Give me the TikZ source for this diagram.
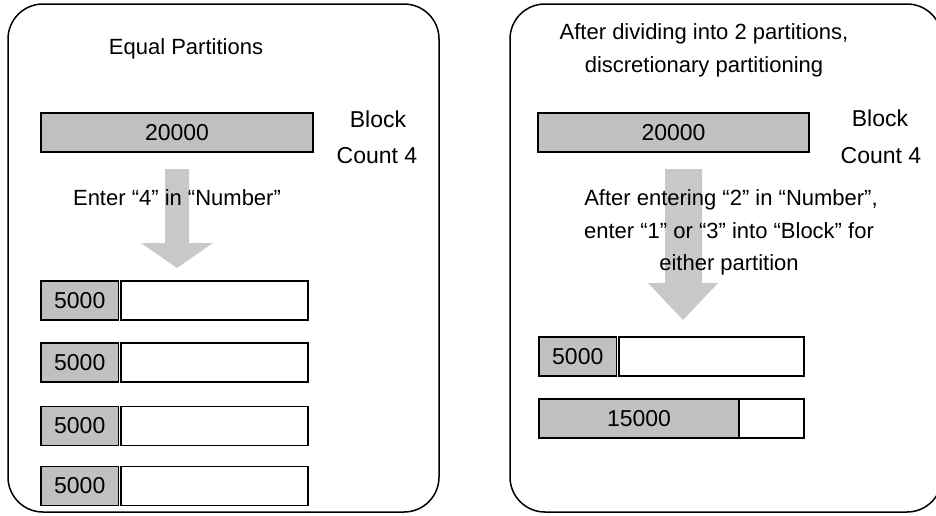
\documentclass[tikz,border=0pt]{standalone}
\usepackage{fontspec}
\setmainfont{Liberation Sans}
\definecolor{barfill}{HTML}{C0C0C0}
\definecolor{arrowfill}{HTML}{C8C8C8}
\begin{document}
\begin{tikzpicture}[x=1pt,y=-1pt,
  every node/.style={font=\fontsize{22}{26}\selectfont, inner sep=0pt, outer sep=0pt},
  panel/.style={draw=black, line width=1.5pt, rounded corners=35pt},
  graybar/.style={draw=black, line width=1.4pt, fill=barfill, minimum height=39pt, font=\fontsize{23}{27}\selectfont},
  whitebar/.style={draw=black, line width=1.4pt, fill=white, minimum height=39pt},
  bigarrow/.style={fill=arrowfill, draw=none},
  lbl/.style={anchor=base},
  side/.style={anchor=base, font=\fontsize{23}{27}\selectfont}]
\useasboundingbox (0,0) rectangle (936,515);
\begin{scope}
\clip (0,0) rectangle (936,515);
% panels
\draw[panel] (8,4) rectangle (439,512);
\draw[panel] (510,4) rectangle (942,512);
\end{scope}
% big arrows (behind text)
\fill[bigarrow] (165,169) -- (189,169) -- (189,243) -- (213,243) -- (177,268) -- (141,243) -- (165,243) -- cycle;
\fill[bigarrow] (665,169) -- (702,169) -- (702,283) -- (718,283) -- (683,320) -- (648,283) -- (665,283) -- cycle;
% left panel
\node[lbl] (titleL) at (186,54) {Equal Partitions};
\node[graybar, minimum width=272pt] (totL) at (177,132.5) {20000};
\node[side] (blkL) at (378,127) {Block};
\node[side] (cntL) at (377,163) {Count 4};
\node[lbl] (enterL) at (177,205) {Enter “4” in “Number”};
\foreach \i/\y in {1/300.5,2/362.5,3/426,4/486}{
  \node[graybar, minimum width=77.5pt] (gL\i) at (79.75,\y) {5000};
  \node[whitebar, minimum width=187pt] (wL\i) at (214.5,\y) {};
}
% right panel
\node[lbl] (titleR1) at (704,39) {After dividing into 2 partitions,};
\node[lbl] (titleR2) at (704,72) {discretionary partitioning};
\node[graybar, minimum width=271pt] (totR) at (673.5,132.5) {20000};
\node[side] (blkR) at (880,126) {Block};
\node[side] (cntR) at (881,163) {Count 4};
\node[lbl] (txtR1) at (731,205) {After entering “2” in “Number”,};
\node[lbl] (txtR2) at (729,238) {enter “1” or “3” into “Block” for};
\node[lbl] (txtR3) at (729,270) {either partition};
\node[graybar, minimum width=77.5pt] (gR1) at (577.75,356.5) {5000};
\node[whitebar, minimum width=185pt] (wR1) at (711.5,356.5) {};
\node[graybar, minimum width=200pt] (gR2) at (639,418.5) {15000};
\node[whitebar, minimum width=65pt] (wR2) at (771.5,418.5) {};
\end{tikzpicture}
\end{document}
